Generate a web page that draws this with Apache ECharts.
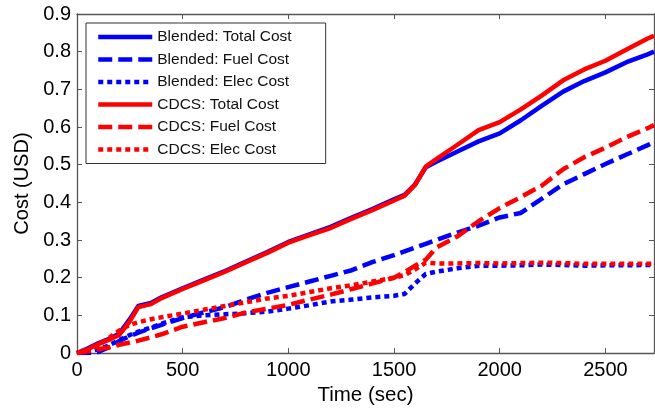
<!DOCTYPE html>
<html>
<head>
<meta charset="utf-8">
<script src="https://cdn.jsdelivr.net/npm/echarts@6/dist/echarts.min.js"></script>
<style>
html,body{margin:0;padding:0;background:#fff;}
#chart{width:655px;height:411px;}
</style>
</head>
<body>
<div id="chart"></div>
<script>
const times = [0,50,100,150,200,250,290,350,400,500,600,700,800,900,1000,1100,1200,1300,1400,1500,1550,1600,1650,1700,1800,1900,2000,2100,2200,2300,2400,2500,2600,2700,2730];

const blendedTotal = [0,0.012,0.026,0.037,0.052,0.09,0.125,0.133,0.148,0.172,0.195,0.218,0.243,0.268,0.295,0.315,0.335,0.36,0.383,0.408,0.42,0.448,0.493,0.508,0.535,0.562,0.583,0.618,0.657,0.694,0.722,0.745,0.772,0.793,0.8];
const blendedFuel = [0,0,0.003,0.015,0.032,0.045,0.054,0.066,0.075,0.093,0.108,0.122,0.142,0.16,0.175,0.19,0.205,0.22,0.242,0.26,0.27,0.28,0.29,0.3,0.32,0.338,0.36,0.372,0.41,0.448,0.475,0.502,0.527,0.552,0.56];
const blendedElec = [0,0.003,0.01,0.02,0.035,0.048,0.057,0.068,0.078,0.095,0.1,0.103,0.106,0.11,0.118,0.127,0.137,0.142,0.148,0.152,0.157,0.185,0.21,0.216,0.225,0.232,0.232,0.233,0.235,0.234,0.232,0.233,0.233,0.234,0.234];
const cdcsTotal = [0,0.01,0.024,0.035,0.048,0.085,0.122,0.13,0.146,0.17,0.193,0.216,0.241,0.266,0.293,0.313,0.332,0.357,0.38,0.405,0.418,0.447,0.495,0.515,0.553,0.592,0.613,0.647,0.684,0.724,0.753,0.776,0.806,0.835,0.842];
const cdcsFuel = [0,0.005,0.01,0.015,0.022,0.028,0.033,0.042,0.05,0.07,0.082,0.093,0.108,0.118,0.128,0.142,0.155,0.17,0.185,0.2,0.215,0.232,0.248,0.28,0.31,0.35,0.385,0.414,0.445,0.488,0.52,0.545,0.573,0.597,0.605];
const cdcsElec = [0,0.008,0.02,0.04,0.06,0.075,0.082,0.09,0.095,0.105,0.115,0.125,0.135,0.145,0.152,0.162,0.172,0.18,0.19,0.2,0.207,0.222,0.24,0.238,0.238,0.239,0.238,0.239,0.24,0.239,0.237,0.237,0.237,0.237,0.237];

const seriesNames = ['Blended: Total Cost','Blended: Fuel Cost','Blended: Elec Cost','CDCS: Total Cost','CDCS: Fuel Cost','CDCS: Elec Cost'];

const BLUE = '#0000ff', RED = '#ff0000';
const DASH = [14,6], DOT = [5,4];

function pairs(vals){ return times.map((t,i)=>[t, vals[i]]); }
function mk(name, vals, color, type){
  return {
    name, type:'line', data:pairs(vals), showSymbol:false, symbol:'none',
    lineStyle:{color, width:4.5, type, cap:'butt', join:'round'},
    itemStyle:{color},
    animation:false
  };
}

const chart = echarts.init(document.getElementById('chart'), null, {renderer:'canvas'});
const axisCol = '#555';
const font = 'Liberation Sans, Arial, sans-serif';
const tick = {show:true, inside:true, length:5, lineStyle:{color:axisCol, width:1}};
const aline = {show:true, onZero:false, lineStyle:{color:axisCol, width:1.3}};
chart.setOption({
  backgroundColor:'#fff',
  animation:false,
  grid:{left:77, right:1, top:14, bottom:57, containLabel:false},
  legend:{
    orient:'vertical', left:86, top:23,
    data:seriesNames,
    itemWidth:54, itemHeight:16, itemGap:6.5,
    padding:[6,34,6,10],
    borderColor:'#333', borderWidth:1, backgroundColor:'#fff',
    textStyle:{fontFamily:font, fontSize:15.5, color:'#111'},
    itemStyle:{opacity:0, color:'rgba(0,0,0,0)', borderWidth:0},
    lineStyle:{width:4.5},
    selectedMode:false
  },
  xAxis:[{
    type:'value', min:0, max:2730, interval:500,
    name:'Time (sec)', nameLocation:'middle', nameGap:29,
    nameTextStyle:{fontFamily:font, fontSize:20.5, color:'#000'},
    axisLine:aline, axisTick:tick,
    axisLabel:{fontFamily:font, fontSize:20, color:'#000', margin:7, showMaxLabel:false,
      formatter:v=>String(v)},
    splitLine:{show:false}
  },{
    type:'value', position:'top', min:0, max:2730, interval:500,
    axisLine:aline, axisTick:tick,
    axisLabel:{show:false}, splitLine:{show:false}
  }],
  yAxis:[{
    type:'value', min:0, max:0.9, interval:0.1,
    name:'Cost (USD)', nameLocation:'middle', nameGap:45,
    nameTextStyle:{fontFamily:font, fontSize:20, color:'#000'},
    axisLine:aline, axisTick:tick,
    axisLabel:{fontFamily:font, fontSize:20, color:'#000', margin:6,
      formatter:v=>{ const r=Math.round(v*10)/10; return r===0?'0':r.toFixed(1);} },
    splitLine:{show:false}
  },{
    type:'value', position:'right', min:0, max:0.9, interval:0.1,
    axisLine:aline, axisTick:tick,
    axisLabel:{show:false}, splitLine:{show:false}
  }],
  series:[
    mk(seriesNames[0], blendedTotal, BLUE, 'solid'),
    mk(seriesNames[1], blendedFuel, BLUE, DASH),
    mk(seriesNames[2], blendedElec, BLUE, DOT),
    mk(seriesNames[3], cdcsTotal, RED, 'solid'),
    mk(seriesNames[4], cdcsFuel, RED, DASH),
    mk(seriesNames[5], cdcsElec, RED, DOT)
  ]
});
</script>
</body>
</html>
